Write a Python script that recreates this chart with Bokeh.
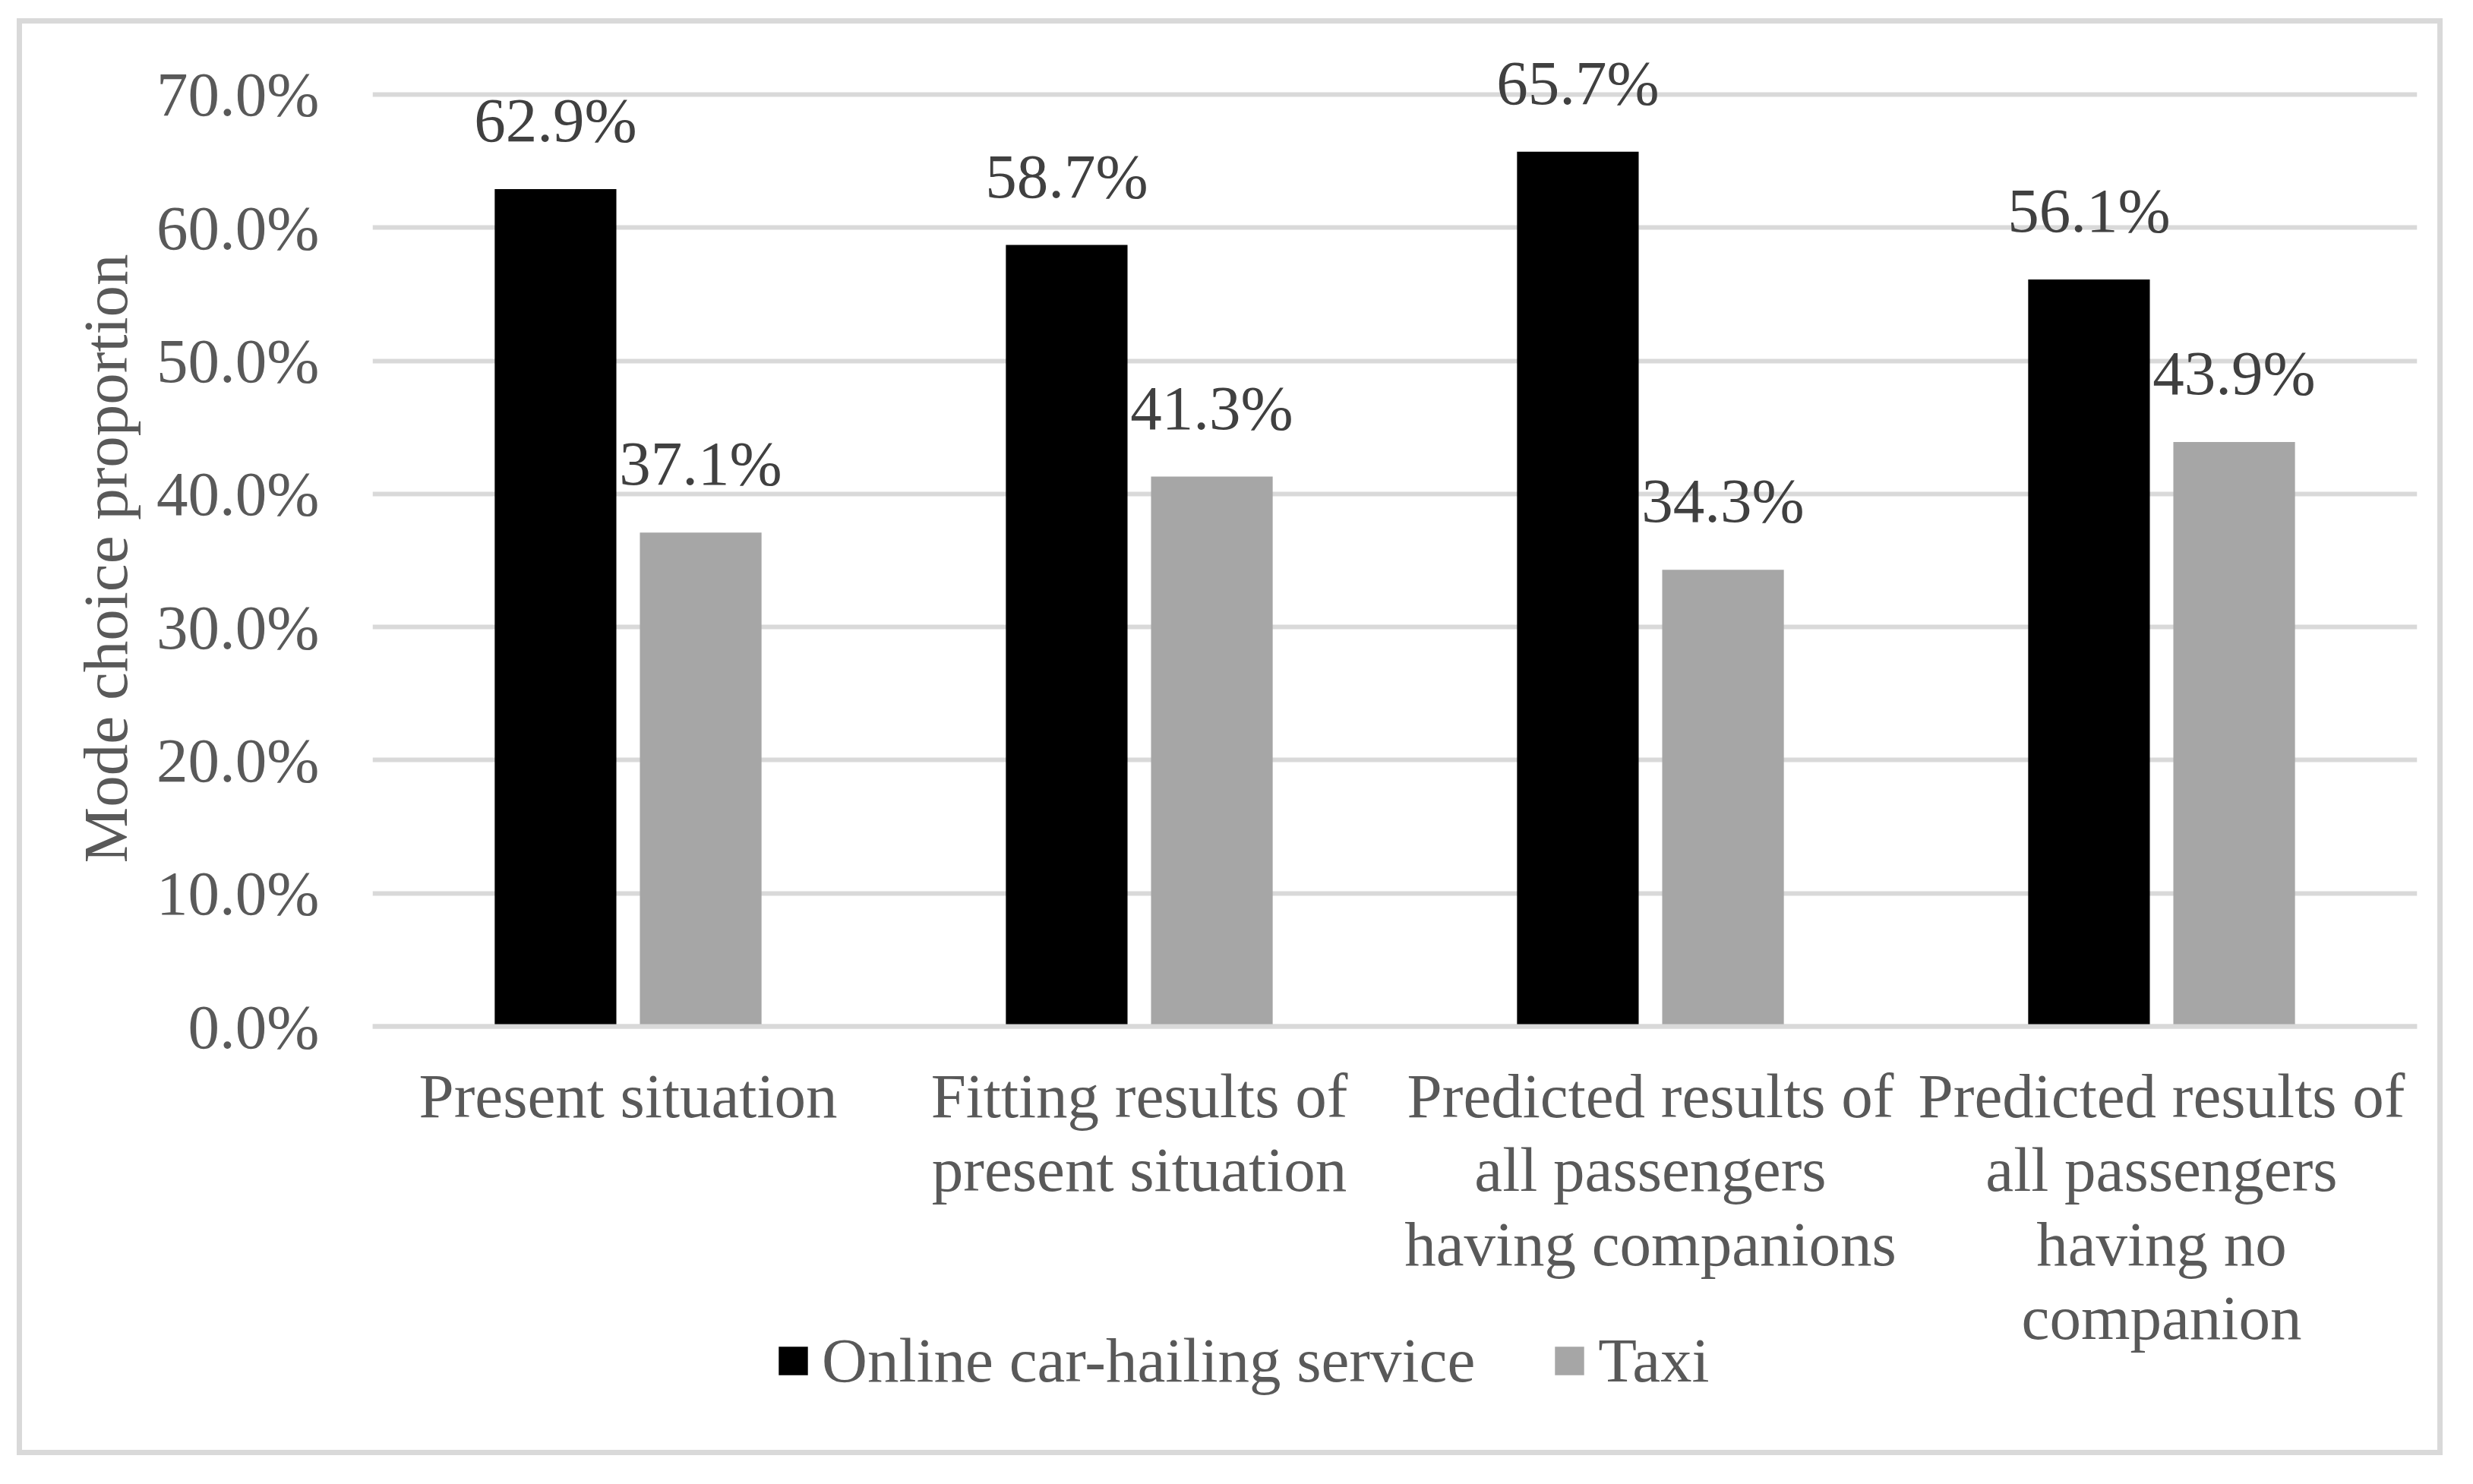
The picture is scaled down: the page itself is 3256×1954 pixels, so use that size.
from bokeh.plotting import figure
from bokeh.models import FactorRange, Range1d, ColumnDataSource, FixedTicker, NumeralTickFormatter, Legend, Title
from bokeh.transform import dodge
from bokeh.core.properties import value
from bokeh.embed import file_html
from bokeh.resources import INLINE

categories = [
    "Present situation",
    "Fitting results of\npresent situation",
    "Predicted results of\nall passengers\nhaving companions",
    "Predicted results of\nall passengers\nhaving no\ncompanion",
]
online = [0.629, 0.587, 0.657, 0.561]
taxi = [0.371, 0.413, 0.343, 0.439]
series_names = ["Online car-hailing service", "Taxi"]
y_ticks = [0.0, 0.1, 0.2, 0.3, 0.4, 0.5, 0.6, 0.7]
y_title = "Mode choice proportion"

FONT = "Liberation Serif"
FS = "83px"

src = ColumnDataSource(dict(
    cat=categories,
    online=online,
    taxi=taxi,
    online_lbl=[f"{v*100:.1f}%" for v in online],
    taxi_lbl=[f"{v*100:.1f}%" for v in taxi],
))

p = figure(
    x_range=FactorRange(*categories),
    y_range=Range1d(-0.3263, 0.7473),
    width=3194, height=1892,
    output_backend="svg", toolbar_location=None,
    min_border_left=461, min_border_right=41,
    min_border_top=10, min_border_bottom=0,
)
p.outline_line_color = None
p.background_fill_color = "white"
p.border_fill_color = "white"
p.styles = {"border": "7px solid #d9d9d9", "margin-left": "22px", "margin-top": "24px"}

r1 = p.vbar(x=dodge("cat", -0.142, range=p.x_range), top="online", width=0.238,
            source=src, fill_color="#000000", line_color=None)
r2 = p.vbar(x=dodge("cat", 0.142, range=p.x_range), top="taxi", width=0.238,
            source=src, fill_color="#a6a6a6", line_color=None)

for col, off in (("online", -0.142), ("taxi", 0.142)):
    p.text(x=dodge("cat", off, range=p.x_range), y=col, text=col + "_lbl", source=src,
           text_font=value(FONT), text_font_size=FS, text_color="#404040",
           text_align="center", text_baseline="alphabetic", y_offset=-91)

# y axis
p.yaxis.ticker = FixedTicker(ticks=y_ticks)
p.yaxis.formatter = NumeralTickFormatter(format="0.0%")
p.yaxis.axis_line_color = None
p.yaxis.major_tick_line_color = None
p.yaxis.minor_tick_line_color = None
p.yaxis.major_tick_out = 0
p.yaxis.major_label_standoff = 70
p.yaxis.major_label_text_font = FONT
p.yaxis.major_label_text_font_size = FS
p.yaxis.major_label_text_color = "#595959"

# y axis title, placed along the 0-70% span
yt = Title(text=y_title, align="left", offset=787, standoff=38,
           text_font=FONT, text_font_size=FS, text_font_style="normal",
           text_color="#595959")
p.add_layout(yt, "left")

# x axis, drawn at y = 0 inside the frame
p.xaxis.fixed_location = 0
p.xaxis.axis_line_color = "#d9d9d9"
p.xaxis.axis_line_width = 6
p.xaxis.major_tick_line_color = None
p.xaxis.minor_tick_line_color = None
p.xaxis.major_tick_out = 0
p.xaxis.major_label_standoff = 45
p.xaxis.major_label_text_font = FONT
p.xaxis.major_label_text_font_size = FS
p.xaxis.major_label_text_color = "#595959"
p.xaxis.major_label_text_line_height = 1.06
p.xaxis.major_label_orientation = "horizontal"

p.xgrid.grid_line_color = None
p.ygrid.grid_line_color = "#d9d9d9"
p.ygrid.grid_line_width = 6

leg = Legend(items=[(series_names[0], [r1]), (series_names[1], [r2])])
leg.orientation = "horizontal"
leg.location = (530, 84)
leg.border_line_color = None
leg.background_fill_alpha = 0
leg.padding = 0
leg.margin = 0
leg.spacing = 100
leg.glyph_width = 48
leg.glyph_height = 47
leg.label_standoff = 14
leg.label_text_font = FONT
leg.label_text_font_size = FS
leg.label_text_color = "#595959"
p.add_layout(leg, "center")

open("out.html", "w").write(file_html(p, INLINE))
